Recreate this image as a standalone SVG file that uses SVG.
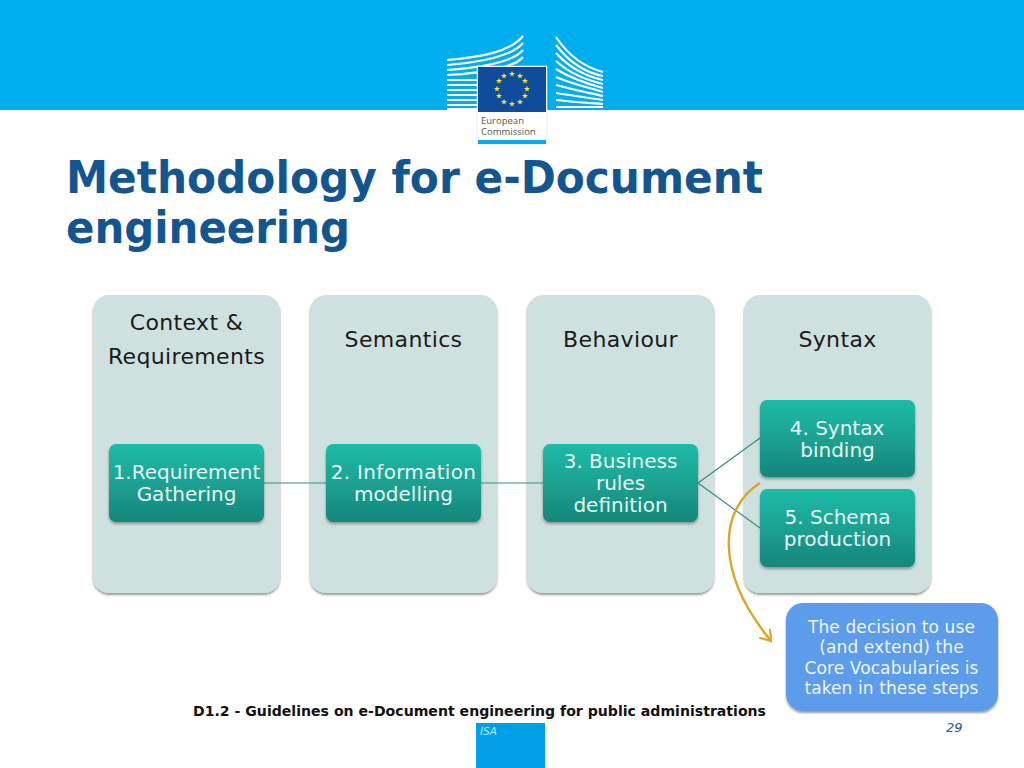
<svg xmlns="http://www.w3.org/2000/svg" width="1024" height="768" viewBox="0 0 1024 768">
<style>
text{font-family:"DejaVu Sans",Verdana,sans-serif}
.col{fill:#cfe1de;filter:url(#sh)}
.box{fill:url(#g);filter:url(#sh2)}
.hd{font-size:22px;fill:#1a1a1a;text-anchor:middle;letter-spacing:.35px}
.bt{font-size:20px;fill:#e8f7f4;text-anchor:middle}
.nt{font-size:17px;fill:#eef5fc;text-anchor:middle;letter-spacing:.1px}
.cn{stroke:#2f8f82;stroke-width:1.2;fill:none}
.ln{fill:none;stroke:#fff;stroke-width:2.2}
.logo{font-family:"Open Sans",sans-serif;font-size:9.5px;fill:#555}
</style>
<defs>
<linearGradient id="g" x1="0" y1="0" x2="0" y2="1"><stop offset="0" stop-color="#1fbca8"/><stop offset="1" stop-color="#17867a"/></linearGradient>
<filter id="sh" x="-10%" y="-10%" width="120%" height="120%"><feDropShadow dx="0" dy="2" stdDeviation="1.2" flood-color="#000" flood-opacity=".4"/></filter>
<filter id="sh2" x="-10%" y="-10%" width="120%" height="125%"><feDropShadow dx="0" dy="2" stdDeviation="1.5" flood-color="#000" flood-opacity=".35"/></filter>
<marker id="ah" markerWidth="14" markerHeight="16" refX="11" refY="7" orient="auto" markerUnits="userSpaceOnUse"><path d="M1 0L11 7L1 14" fill="none" stroke="#dea422" stroke-width="2.2"/></marker>
<polygon id="st" points="0,-3.2 .8,-1 3.1,-1 1.2,.4 1.9,2.6 0,1.3 -1.9,2.6 -1.2,.4 -3.1,-1 -.8,-1" fill="#ffe033"/>
</defs>
<rect id="banner" width="1024" height="110" fill="#00aeef"/>
<g id="logo">
<path class="ln" d="M447 60C482 57 510 52 523 36M447 65C484 62 512 56 523 43M447 70C486 67 514 61 523 50M447 75C488 73 516 66 523 57M447 80H480M447 85H480M447 90H480M447 95H480M447 100H480M447 105H480M447 109H480"/>
<path class="ln" d="M556 37C566 52 580 66 603 72M556 45C566 58 582 72 603 76M556 53C568 66 584 76 603 80M556 61C568 72 586 80 603 84M556 69C570 78 588 84 603 88M556 77C572 84 590 88 603 92M556 85C574 90 590 93 603 96M556 93C574 96 590 98 603 100M556 100C574 102 590 103 603 104M556 107H603"/>
<rect x="477" y="66" width="70" height="78" fill="#fff" stroke="#ddd" stroke-width=".6"/>
<rect x="478" y="67" width="68" height="45" fill="#0f4c9b"/>
<rect x="478" y="140" width="68" height="4" fill="#00aeef"/>
<use href="#st" x="512" y="74"/><use href="#st" x="520" y="76"/><use href="#st" x="525" y="81"/><use href="#st" x="527" y="89"/><use href="#st" x="525" y="96"/><use href="#st" x="520" y="102"/><use href="#st" x="512" y="104"/><use href="#st" x="504" y="102"/><use href="#st" x="499" y="96"/><use href="#st" x="497" y="89"/><use href="#st" x="499" y="81"/><use href="#st" x="504" y="76"/>
<text class="logo" x="481" y="124">European</text>
<text class="logo" x="481" y="135">Commission</text>
</g>
<text x="66" y="193" font-size="44" font-weight="700" fill="#13568f" textLength="697" lengthAdjust="spacingAndGlyphs">Methodology for e-Document</text>
<text x="66" y="243" font-size="44" font-weight="700" fill="#13568f" textLength="284" lengthAdjust="spacingAndGlyphs">engineering</text>
<g id="col1"><rect class="col" x="93" y="295" width="187" height="298" rx="16"/><text class="hd" x="186.500" y="330">Context &amp;</text><text class="hd" x="186.500" y="364">Requirements</text></g>
<g id="col2"><rect class="col" x="310" y="295" width="187" height="298" rx="16"/><text class="hd" x="403.500" y="347">Semantics</text></g>
<g id="col3"><rect class="col" x="527" y="295" width="187" height="298" rx="16"/><text class="hd" x="620.500" y="347">Behaviour</text></g>
<g id="col4"><rect class="col" x="744" y="295" width="187" height="298" rx="16"/><text class="hd" x="837.500" y="347">Syntax</text></g>
<g id="connectors">
<path class="cn" d="M264 483H326M481 483H543M698 483L760 438M698 483L760 528"/>
</g>
<g id="n1"><rect class="box" x="109" y="444" width="155" height="78" rx="7"/><text class="bt" x="186.500" y="479">1.Requirement</text><text class="bt" x="186.500" y="501">Gathering</text></g>
<g id="n2"><rect class="box" x="326" y="444" width="155" height="78" rx="7"/><text class="bt" x="403.500" y="479" letter-spacing=".3">2. Information</text><text class="bt" x="403.500" y="501">modelling</text></g>
<g id="n3"><rect class="box" x="543" y="444" width="155" height="78" rx="7"/><text class="bt" x="620.500" y="468">3. Business</text><text class="bt" x="620.500" y="490">rules</text><text class="bt" x="620.500" y="512">definition</text></g>
<g id="n4"><rect class="box" x="760" y="400" width="155" height="77" rx="7"/><text class="bt" x="837" y="434.500">4. Syntax</text><text class="bt" x="837.500" y="456.500">binding</text></g>
<g id="n5"><rect class="box" x="760" y="489" width="155" height="78" rx="7"/><text class="bt" x="837.500" y="523.500">5. Schema</text><text class="bt" x="837.500" y="545.500">production</text></g>
<g id="curve"><path d="M760 483C720 508 713 570 771 641" fill="none" stroke="#dea422" stroke-width="2.4" marker-end="url(#ah)"/></g>
<g id="note"><rect x="786" y="603" width="212" height="108" rx="17" fill="#5b9ceb" filter="url(#sh)"/>
<text class="nt" x="891.500" y="633">The decision to use</text><text class="nt" x="891.500" y="653">(and extend) the</text><text class="nt" x="891.500" y="674">Core Vocabularies is</text><text class="nt" x="891.500" y="694">taken in these steps</text></g>
<text x="193" y="716" font-size="14" font-weight="700" fill="#111" textLength="573" lengthAdjust="spacingAndGlyphs">D1.2 - Guidelines on e-Document engineering for public administrations</text>
<rect x="476" y="723" width="69" height="45" fill="#00a0e9"/>
<text x="480" y="735" font-size="10.500" font-style="italic" fill="#bfe6fb">ISA</text>
<text x="946" y="732" font-size="13" font-style="italic" fill="#1d5a9c">29</text>
</svg>
